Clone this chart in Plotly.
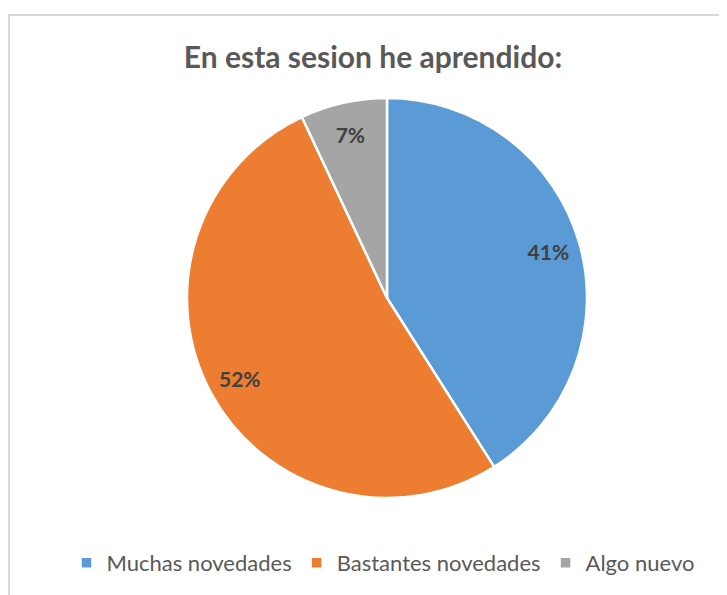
import plotly.graph_objects as go

categories = ["Muchas novedades", "Bastantes novedades", "Algo nuevo"]
values = [41, 52, 7]
colors = ["#5B9BD5", "#ED7D31", "#A5A5A5"]
title_text = "En esta sesion he aprendido:"

# the page body adds an 8px offset, so the figure is drawn slightly smaller
W, H = 719, 587
FONT = "Lato"

pie_domain = dict(x=[179 / W, 579 / W], y=[1 - 490 / H, 1 - 90 / H])

# main pie (colours, legend)
fig = go.Figure(go.Pie(
    labels=categories,
    values=values,
    sort=False,
    direction="clockwise",
    rotation=0,
    marker=dict(colors=colors, line=dict(color="white", width=2.5)),
    textinfo="none",
    domain=pie_domain,
    hoverinfo="label+percent",
))

# transparent ring on top, only used to place the percentage labels near the rim
fig.add_trace(go.Pie(
    labels=categories,
    values=values,
    sort=False,
    direction="clockwise",
    rotation=0,
    hole=0.68,
    marker=dict(colors=["rgba(0,0,0,0)"] * len(values), line=dict(width=0)),
    texttemplate="%{percent:.0%}",
    textposition="inside",
    insidetextorientation="horizontal",
    textfont=dict(family=FONT, size=21, color="#404040", weight="bold"),
    domain=pie_domain,
    showlegend=False,
    hoverinfo="skip",
))

fig.update_layout(
    width=W, height=H,
    margin=dict(l=0, r=0, t=0, b=0),
    paper_bgcolor="white",
    plot_bgcolor="white",
    font=dict(family=FONT, color="#595959"),
    title=dict(
        text="<b>" + title_text + "</b>",
        x=365 / W, xanchor="center",
        y=1 - 49 / H, yanchor="middle",
        font=dict(family=FONT, size=30, color="#595959"),
    ),
    legend=dict(
        orientation="h",
        x=375 / W, xanchor="center",
        y=1 - 555 / H, yanchor="middle",
        font=dict(family=FONT, size=22, color="#595959"),
        itemwidth=30,
        traceorder="normal",
    ),
    showlegend=True,
    shapes=[
        dict(type="line", xref="paper", yref="paper",
             x0=1 / W, x1=1 / W, y0=0, y1=1 - 7 / H,
             line=dict(color="#D9D9D9", width=2)),
        dict(type="line", xref="paper", yref="paper",
             x0=0, x1=1, y0=1 - 7 / H, y1=1 - 7 / H,
             line=dict(color="#D9D9D9", width=2)),
    ],
)

fig.write_html("out.html")
